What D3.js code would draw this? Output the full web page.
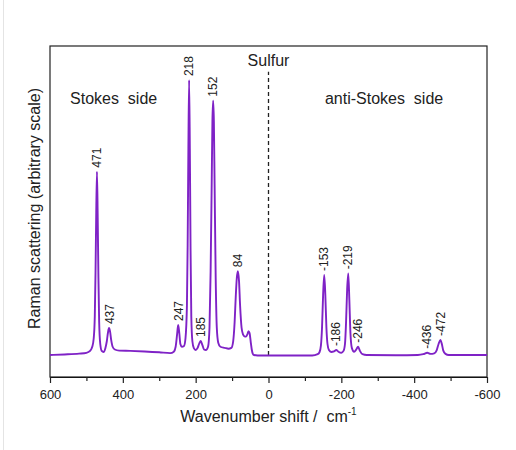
<!DOCTYPE html>
<html>
<head>
<meta charset="utf-8">
<script src="https://cdn.jsdelivr.net/npm/d3@7"></script>
<style>
  html, body { margin: 0; padding: 0; background: #fff; }
  svg { display: block; font-family: "Liberation Sans", Arial, sans-serif; }
</style>
</head>
<body>
<svg id="chart" width="516" height="450"></svg>
<script>
// trace: [wavenumber shift (cm-1), intensity (218 peak = 100)]
const spectrum = [
  [600, 0.0], [560, 0.2], [520, 0.5], [500, 0.8], [490, 1.5], [484, 3], [480, 6],
  [477, 14], [475, 30], [473, 52], [471, 66.7], [469, 50], [467, 28], [465, 12],
  [462, 4], [458, 1.5], [453, 1.1], [448, 2.5], [444, 5], [441, 8], [438, 9.8],
  [435, 8.5], [432, 5.5], [428, 3], [422, 2], [410, 1.6], [380, 1.5], [340, 1.3],
  [300, 1.0], [270, 0.7], [260, 1.2], [255, 3], [251, 7.5], [248, 10.9], [245, 8],
  [242, 4], [238, 3], [232, 3.3], [228, 6], [224, 18], [222, 40], [220, 75],
  [218, 100], [216, 75], [214, 38], [212, 14], [209, 5], [205, 2.5], [200, 1.8],
  [195, 2.5], [190, 4.2], [186, 5.1], [182, 3.8], [177, 2.0], [172, 1.8], [166, 3],
  [162, 10], [159, 30], [156, 62], [154, 85], [152, 92.5], [150, 85], [148, 62],
  [145, 28], [142, 10], [138, 4.5], [132, 3.0], [120, 2.6], [110, 2.3], [102, 2.6],
  [97, 5], [93, 12], [90, 21], [87, 28], [84, 30.5], [81, 27], [78, 18], [74, 10],
  [70, 7.5], [66, 6.8], [62, 6.7], [58, 7.5], [55, 8.7], [52, 8], [49, 5], [46, 2],
  [43, 0.4], [40, 0], [20, -0.2], [-50, -0.2], [-120, -0.2], [-135, 0.3], [-140, 1],
  [-144, 3.5], [-147, 10], [-150, 22], [-153, 29.1], [-156, 22], [-159, 10],
  [-162, 4], [-166, 1.8], [-172, 1.1], [-180, 1.3], [-186, 1.8], [-192, 1.2],
  [-200, 0.8], [-206, 1.5], [-210, 4], [-213, 12], [-216, 24], [-219, 29.7],
  [-222, 20], [-225, 8], [-229, 2.5], [-235, 1.2], [-241, 2], [-246, 3.0],
  [-251, 1.5], [-258, 0.3], [-270, 0], [-350, -0.1], [-410, 0], [-425, 0.3],
  [-436, 0.8], [-445, 0.4], [-455, 0.6], [-462, 1.8], [-467, 4], [-472, 5.5],
  [-476, 4], [-480, 1.6], [-486, 0.4], [-495, 0], [-600, 0]
];

const peakShifts = [471, 437, 247, 218, 185, 152, 84, -153, -186, -219, -246, -436, -472];
const majorTicks = [600, 400, 200, 0, -200, -400, -600];
const minorTicks = [500, 300, 100, -100, -300, -500];
const sideLabels = ["Stokes  side", "anti-Stokes  side"];

const margin = { top: 46, right: 29, bottom: 73, left: 50 };
const width = 516, height = 450;

const svg = d3.select('#chart');

const x = d3.scaleLinear().domain([600, -600]).range([margin.left, width - margin.right]);
const y = d3.scaleLinear().domain([-8, 112.4]).range([height - margin.bottom, margin.top]);

// page edge
svg.append('line')
  .attr('x1', 3.5).attr('x2', 3.5).attr('y1', 0).attr('y2', height)
  .attr('stroke', '#e4e4e4').attr('stroke-width', 1);

// ticks (outward, below the frame)
const xAxis = svg.append('g')
  .attr('transform', `translate(0,${height - margin.bottom})`)
  .call(d3.axisBottom(x).tickValues(majorTicks).tickSize(6).tickSizeOuter(0)
    .tickPadding(7).tickFormat((d) => String(d)));
svg.append('g')
  .attr('transform', `translate(0,${height - margin.bottom})`)
  .call(d3.axisBottom(x).tickValues(minorTicks).tickSize(4).tickSizeOuter(0).tickFormat(''))
  .call((g) => g.select('.domain').remove());

xAxis.selectAll('.tick text')
  .attr('font-size', 13)
  .attr('font-family', '"Liberation Sans", Arial, sans-serif')
  .attr('fill', '#222');
svg.selectAll('.tick line').attr('stroke', '#222').attr('stroke-width', 1.2);

// frame
svg.append('rect')
  .attr('x', margin.left).attr('y', margin.top)
  .attr('width', width - margin.left - margin.right)
  .attr('height', height - margin.top - margin.bottom)
  .attr('fill', 'none').attr('stroke', '#222').attr('stroke-width', 1.2);

// laser line
svg.append('line')
  .attr('x1', x(0)).attr('x2', x(0))
  .attr('y1', y(0)).attr('y2', y(103))
  .attr('stroke', '#222').attr('stroke-width', 1.3)
  .attr('stroke-dasharray', '4,3');

svg.append('text')
  .attr('x', x(0)).attr('y', 66)
  .attr('text-anchor', 'middle').attr('font-size', 16).attr('fill', '#222')
  .text('Sulfur');

// spectrum
const line = d3.line()
  .x((d) => x(d[0]))
  .y((d) => y(d[1]))
  .curve(d3.curveMonotoneX);

svg.append('path')
  .datum(spectrum)
  .attr('d', line)
  .attr('fill', 'none')
  .attr('stroke', '#7f22c6')
  .attr('stroke-width', 1.9)
  .attr('stroke-linejoin', 'round');

// peak labels, placed just above the highest trace point near each shift
const peakHeight = (w) => d3.max(spectrum.filter((d) => Math.abs(d[0] - w) <= 3), (d) => d[1]);
svg.append('g')
  .selectAll('text')
  .data(peakShifts)
  .join('text')
  .attr('transform', (d) => `translate(${x(d)},${y(peakHeight(d)) - 4}) rotate(-90)`)
  .attr('dy', '0.35em')
  .attr('font-size', 12)
  .attr('fill', '#222')
  .text((d) => String(d));

// side labels
svg.append('text')
  .attr('x', x(545)).attr('y', 104)
  .attr('font-size', 16).attr('fill', '#222')
  .style('white-space', 'pre')
  .text(sideLabels[0]);
svg.append('text')
  .attr('x', x(-155)).attr('y', 104)
  .attr('font-size', 16).attr('fill', '#222')
  .style('white-space', 'pre')
  .text(sideLabels[1]);

// axis titles
const xt = svg.append('text')
  .attr('x', x(0)).attr('y', 422)
  .attr('text-anchor', 'middle').attr('font-size', 16).attr('fill', '#222')
  .style('white-space', 'pre');
xt.append('tspan').text('Wavenumber shift /  cm');
xt.append('tspan').attr('dy', -7).attr('font-size', 10).text('-1');

svg.append('text')
  .attr('transform', `translate(40,${(margin.top + height - margin.bottom) / 2 - 3}) rotate(-90)`)
  .attr('text-anchor', 'middle').attr('font-size', 16).attr('fill', '#222')
  .text('Raman scattering (arbitrary scale)');
</script>
</body>
</html>
